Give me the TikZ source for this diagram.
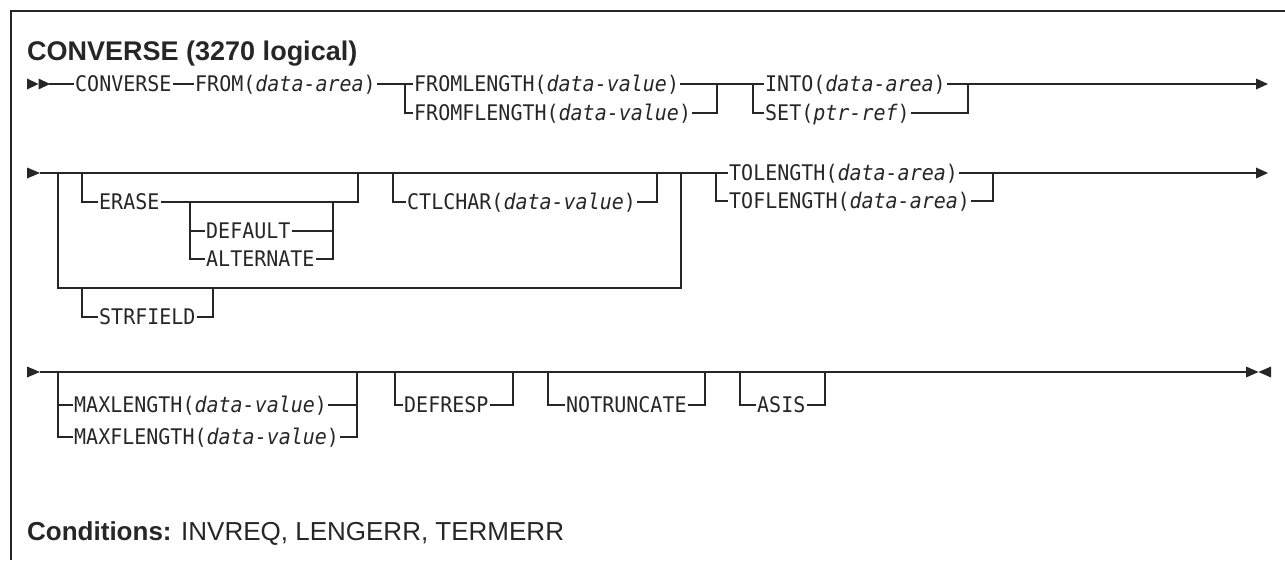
\documentclass[tikz,border=0pt]{standalone}
\usepackage{fontspec}
\setmonofont[FakeStretch=0.93]{DejaVu Sans Mono}
\newfontfamily\helv{Liberation Sans}
\definecolor{ink}{HTML}{262626}
\tikzset{
  kw/.style={anchor=west, inner xsep=1pt, inner ysep=0pt, text height=15.7pt, text depth=0pt,
    font=\ttfamily\fontsize{21.5}{26}\selectfont, text=ink},
  rail/.style={line width=1.5pt, draw=ink},
  tip/.style={fill=ink},
  heading/.style={anchor=base west, inner sep=0pt, font=\helv\fontsize{26}{30}\selectfont, text=ink},
}
\begin{document}
\begin{tikzpicture}[x=1pt,y=-1pt]
\useasboundingbox (0,0) rectangle (1285,560);
% frame
\draw[line width=2pt, draw=ink] (11,560) -- (11,11) -- (1285,11);
% title
\node[heading, font=\helv\fontsize{27}{31}\selectfont] (title) at (27,60) {\bfseries CONVERSE (3270 logical)};

% ---------- row 1 ----------
\fill[tip] (27,78.5) -- (38.5,84) -- (27,89.5) -- cycle;
\fill[tip] (38.5,78.5) -- (50,84) -- (38.5,89.5) -- cycle;
\coordinate (s1) at (49,84);
\node[kw] (converse) at (74,84) {CONVERSE};
\node[kw] (from) at (194,84) {FROM(\textit{data-area})};
\coordinate (j1) at (405,84);
\node[kw] (fl) at (413,84) {FROMLENGTH(\textit{data-value})};
\node[kw] (ffl) at (413,113) {FROMFLENGTH(\textit{data-value})};
\coordinate (j2) at (717,84);
\coordinate (j3) at (753,84);
\node[kw] (into) at (764,84) {INTO(\textit{data-area})};
\node[kw] (set) at (764,113) {SET(\textit{ptr-ref})};
\coordinate (j4) at (968,84);
\coordinate (e1) at (1257,84);
\draw[rail] (s1) -- (converse);
\draw[rail] (converse) -- (from);
\draw[rail] (from) -- (fl);
\draw[rail] (j1) |- (ffl.west);
\draw[rail] (fl) -- (into);
\draw[rail] (ffl.east) -| (j2);
\draw[rail] (j3) |- (set.west);
\draw[rail] (into) -- (e1);
\draw[rail] (set.east) -| (j4);
\fill[tip] (1256,78.5) -- (1268,84) -- (1256,89.5) -- cycle;

% ---------- row 2 ----------
\fill[tip] (27,167.5) -- (40,173) -- (27,178.5) -- cycle;
\coordinate (s2) at (40,173);
\coordinate (oL) at (58,173);
\coordinate (oR) at (681,173);
\coordinate (oB) at (58,288);
\node[kw] (erase) at (98,202) {ERASE};
\coordinate (eb) at (82,173);
\coordinate (er) at (358,173);
\coordinate (db) at (190,202);
\node[kw] (default) at (205,231) {DEFAULT};
\node[kw] (alt) at (205,259) {ALTERNATE};
\coordinate (dr) at (333,202);
\coordinate (cb) at (393,173);
\node[kw] (ctl) at (406,202) {CTLCHAR(\textit{data-value})};
\coordinate (cr) at (657,173);
\coordinate (sb) at (82,288);
\node[kw] (str) at (98,317) {STRFIELD};
\coordinate (sr) at (213,288);
\coordinate (tb) at (716,173);
\node[kw] (tol) at (728,173) {TOLENGTH(\textit{data-area})};
\node[kw] (tofl) at (728,201) {TOFLENGTH(\textit{data-area})};
\coordinate (tr) at (993,173);
\coordinate (e2) at (1257,173);
\draw[rail] (s2) -- (tol);
\draw[rail] (oL) |- (oB -| oR) -- (oR);
\draw[rail] (eb) |- (erase.west);
\draw[rail] (erase.east) -| (er);
\draw[rail] (db) |- (default.west);
\draw[rail] (db) |- (alt.west);
\draw[rail] (default.east) -| (dr);
\draw[rail] (alt.east) -| (dr);
\draw[rail] (cb) |- (ctl.west);
\draw[rail] (ctl.east) -| (cr);
\draw[rail] (sb) |- (str.west);
\draw[rail] (str.east) -| (sr);
\draw[rail] (tb) |- (tofl.west);
\draw[rail] (tofl.east) -| (tr);
\draw[rail] (tol) -- (e2);
\fill[tip] (1256,167.5) -- (1268,173) -- (1256,178.5) -- cycle;

% ---------- row 3 ----------
\fill[tip] (27,366.5) -- (40,372) -- (27,377.5) -- cycle;
\coordinate (s3) at (40,372);
\coordinate (e3) at (1248,372);
\coordinate (mb) at (58,372);
\node[kw] (max) at (73,405) {MAXLENGTH(\textit{data-value})};
\node[kw] (maxf) at (73,437) {MAXFLENGTH(\textit{data-value})};
\coordinate (mr) at (357,372);
\coordinate (db3) at (395,372);
\node[kw] (defresp) at (403,405) {DEFRESP};
\coordinate (dr3) at (513,372);
\coordinate (nb) at (548,372);
\node[kw] (notr) at (565,405) {NOTRUNCATE};
\coordinate (nr) at (705,372);
\coordinate (ab) at (740,372);
\node[kw] (asis) at (756,405) {ASIS};
\coordinate (ar) at (825,372);
\draw[rail] (s3) -- (e3);
\draw[rail] (mb) |- (max.west);
\draw[rail] (mb) |- (maxf.west);
\draw[rail] (max.east) -| (mr);
\draw[rail] (maxf.east) -| (mr);
\draw[rail] (db3) |- (defresp.west);
\draw[rail] (defresp.east) -| (dr3);
\draw[rail] (nb) |- (notr.west);
\draw[rail] (notr.east) -| (nr);
\draw[rail] (ab) |- (asis.west);
\draw[rail] (asis.east) -| (ar);
\fill[tip] (1246,366.5) -- (1258.5,372) -- (1246,377.5) -- cycle;
\fill[tip] (1271,366.5) -- (1258.5,372) -- (1271,377.5) -- cycle;

% conditions
\node[heading] (cond) at (27,540) {\bfseries Conditions:\mdseries{} INVREQ, LENGERR, TERMERR};
\end{tikzpicture}
\end{document}
